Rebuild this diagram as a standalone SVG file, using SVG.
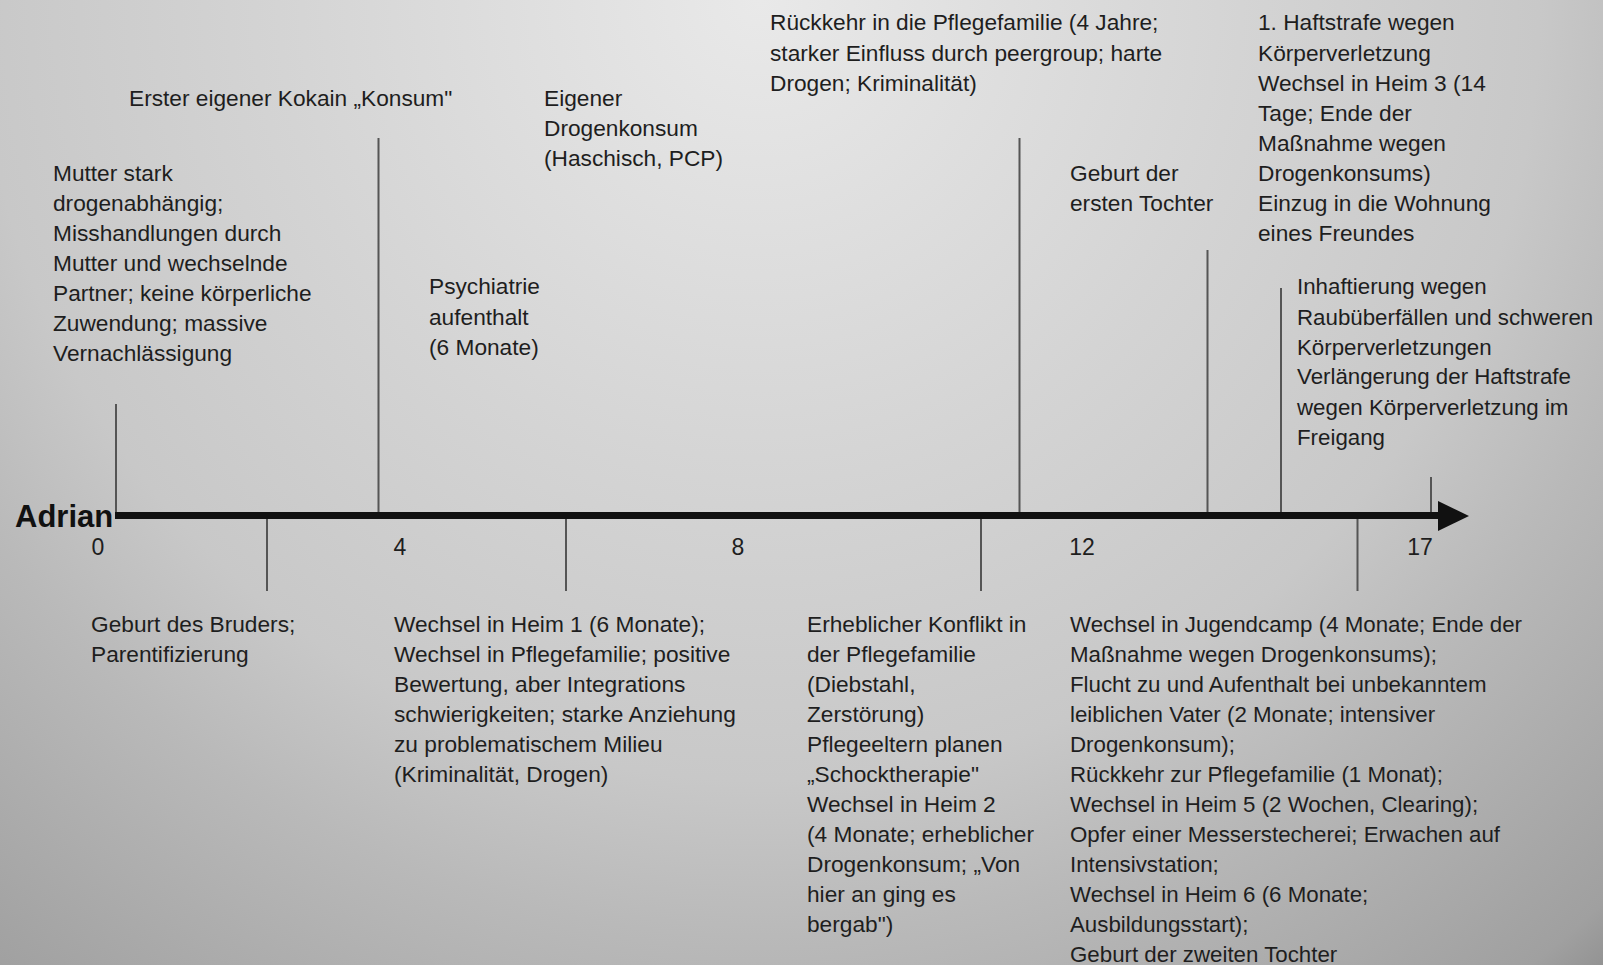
<svg xmlns="http://www.w3.org/2000/svg" width="1603" height="965" viewBox="0 0 1603 965">
<defs>
<radialGradient id="bg" gradientUnits="userSpaceOnUse" cx="760" cy="0" r="1300">
<stop offset="0" stop-color="#e9e9e9"/>
<stop offset="0.37" stop-color="#d4d4d4"/>
<stop offset="0.6" stop-color="#c8c8c8"/>
<stop offset="0.72" stop-color="#b9b9b9"/>
<stop offset="0.95" stop-color="#a0a0a0"/>
<stop offset="1" stop-color="#8e8e8e"/>
</radialGradient>
<style>
.t{font-family:"Liberation Sans",Arial,sans-serif;font-size:22.7px;fill:#1e1e1e}
.s{font-size:22.3px}
.n{font-family:"Liberation Sans",Arial,sans-serif;font-size:23px;fill:#1e1e1e;text-anchor:middle}
.tick{stroke:#555;stroke-width:2;fill:none}
.axis{stroke:#111;stroke-width:7;fill:none}
</style>
</defs>
<rect width="1603" height="965" fill="url(#bg)"/>

<g id="connectors">
<line class="axis" x1="115" y1="515.5" x2="1442" y2="515.5"/>
<polygon points="1438,501 1469,516 1438,531" fill="#111"/>
<line class="tick" x1="116" y1="404" x2="116" y2="512"/>
<line class="tick" x1="378.5" y1="138" x2="378.5" y2="512"/>
<line class="tick" x1="1019.5" y1="138" x2="1019.5" y2="512"/>
<line class="tick" x1="1207.5" y1="250" x2="1207.5" y2="512"/>
<line class="tick" x1="1281" y1="288" x2="1281" y2="512"/>
<line class="tick" x1="1431" y1="477" x2="1431" y2="512"/>
<line class="tick" x1="267" y1="519" x2="267" y2="591"/>
<line class="tick" x1="566" y1="519" x2="566" y2="591"/>
<line class="tick" x1="981" y1="519" x2="981" y2="591"/>
<line class="tick" x1="1357.5" y1="519" x2="1357.5" y2="591"/>
</g>

<g id="axis-labels">
<text x="15" y="527" style="font-family:'Liberation Sans',Arial,sans-serif;font-size:31px;font-weight:bold;fill:#111">Adrian</text>
<text class="n" x="98" y="555">0</text>
<text class="n" x="400" y="555">4</text>
<text class="n" x="738" y="555">8</text>
<text class="n" x="1082" y="555">12</text>
<text class="n" x="1420" y="555">17</text>
</g>

<g id="ev-mutter">
<text class="t" x="53" y="181">Mutter stark</text>
<text class="t" x="53" y="211">drogenabhängig;</text>
<text class="t" x="53" y="241">Misshandlungen durch</text>
<text class="t" x="53" y="271">Mutter und wechselnde</text>
<text class="t" x="53" y="301">Partner; keine körperliche</text>
<text class="t" x="53" y="331">Zuwendung; massive</text>
<text class="t" x="53" y="361">Vernachlässigung</text>
</g>

<g id="ev-kokain">
<text class="t" x="129" y="106">Erster eigener Kokain „Konsum"</text>
</g>

<g id="ev-drogenkonsum">
<text class="t" x="544" y="106">Eigener</text>
<text class="t" x="544" y="136">Drogenkonsum</text>
<text class="t" x="544" y="166">(Haschisch, PCP)</text>
</g>

<g id="ev-psychiatrie">
<text class="t" x="429" y="294">Psychiatrie</text>
<text class="t" x="429" y="325">aufenthalt</text>
<text class="t" x="429" y="355">(6 Monate)</text>
</g>

<g id="ev-rueckkehr">
<text class="t" x="770" y="30">Rückkehr in die Pflegefamilie (4 Jahre;</text>
<text class="t" x="770" y="61">starker Einfluss durch peergroup; harte</text>
<text class="t" x="770" y="91">Drogen; Kriminalität)</text>
</g>

<g id="ev-tochter1">
<text class="t" x="1070" y="181">Geburt der</text>
<text class="t" x="1070" y="211">ersten Tochter</text>
</g>

<g id="ev-haft1">
<text class="t" x="1258" y="30">1. Haftstrafe wegen</text>
<text class="t" x="1258" y="61">Körperverletzung</text>
<text class="t" x="1258" y="91">Wechsel in Heim 3 (14</text>
<text class="t" x="1258" y="121">Tage; Ende der</text>
<text class="t" x="1258" y="151">Maßnahme wegen</text>
<text class="t" x="1258" y="181">Drogenkonsums)</text>
<text class="t" x="1258" y="211">Einzug in die Wohnung</text>
<text class="t" x="1258" y="241">eines Freundes</text>
</g>

<g id="ev-inhaftierung">
<text class="t s" x="1297" y="294">Inhaftierung wegen</text>
<text class="t s" x="1297" y="325">Raubüberfällen und schweren</text>
<text class="t s" x="1297" y="355">Körperverletzungen</text>
<text class="t s" x="1297" y="384">Verlängerung der Haftstrafe</text>
<text class="t s" x="1297" y="415">wegen Körperverletzung im</text>
<text class="t s" x="1297" y="445">Freigang</text>
</g>

<g id="ev-bruder">
<text class="t" x="91" y="632">Geburt des Bruders;</text>
<text class="t" x="91" y="662">Parentifizierung</text>
</g>

<g id="ev-heim1">
<text class="t" x="394" y="632">Wechsel in Heim 1 (6 Monate);</text>
<text class="t" x="394" y="662">Wechsel in Pflegefamilie; positive</text>
<text class="t" x="394" y="692">Bewertung, aber Integrations</text>
<text class="t" x="394" y="722">schwierigkeiten; starke Anziehung</text>
<text class="t" x="394" y="752">zu problematischem Milieu</text>
<text class="t" x="394" y="782">(Kriminalität, Drogen)</text>
</g>

<g id="ev-konflikt">
<text class="t" x="807" y="632">Erheblicher Konflikt in</text>
<text class="t" x="807" y="662">der Pflegefamilie</text>
<text class="t" x="807" y="692">(Diebstahl,</text>
<text class="t" x="807" y="722">Zerstörung)</text>
<text class="t" x="807" y="752">Pflegeeltern planen</text>
<text class="t" x="807" y="782">„Schocktherapie"</text>
<text class="t" x="807" y="812">Wechsel in Heim 2</text>
<text class="t" x="807" y="842">(4 Monate; erheblicher</text>
<text class="t" x="807" y="872">Drogenkonsum; „Von</text>
<text class="t" x="807" y="902">hier an ging es</text>
<text class="t" x="807" y="932">bergab")</text>
</g>

<g id="ev-jugendcamp">
<text class="t s" x="1070" y="632">Wechsel in Jugendcamp (4 Monate; Ende der</text>
<text class="t s" x="1070" y="662">Maßnahme wegen Drogenkonsums);</text>
<text class="t s" x="1070" y="692">Flucht zu und Aufenthalt bei unbekanntem</text>
<text class="t s" x="1070" y="722">leiblichen Vater (2 Monate; intensiver</text>
<text class="t s" x="1070" y="752">Drogenkonsum);</text>
<text class="t s" x="1070" y="782">Rückkehr zur Pflegefamilie (1 Monat);</text>
<text class="t s" x="1070" y="812">Wechsel in Heim 5 (2 Wochen, Clearing);</text>
<text class="t s" x="1070" y="842">Opfer einer Messerstecherei; Erwachen auf</text>
<text class="t s" x="1070" y="872">Intensivstation;</text>
<text class="t s" x="1070" y="902">Wechsel in Heim 6 (6 Monate;</text>
<text class="t s" x="1070" y="932">Ausbildungsstart);</text>
<text class="t s" x="1070" y="962">Geburt der zweiten Tochter</text>
</g>
</svg>
